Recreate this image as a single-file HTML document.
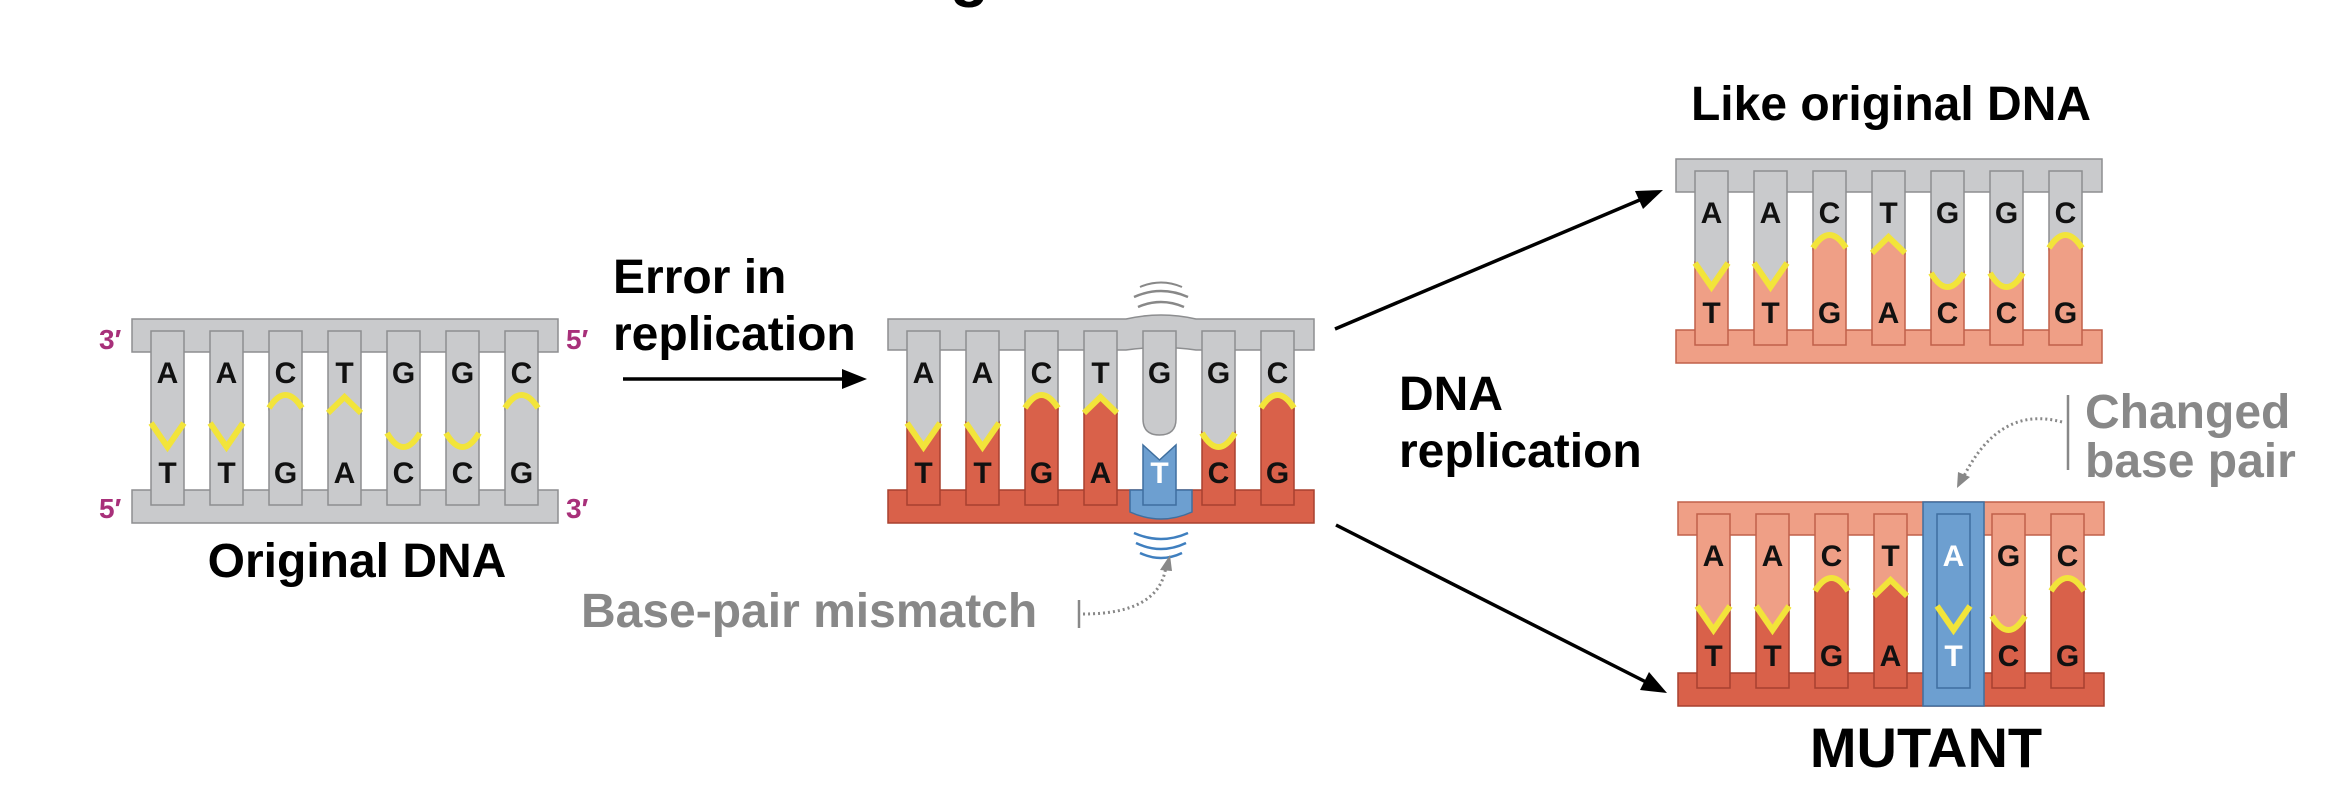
<!DOCTYPE html>
<html><head><meta charset="utf-8"><style>
html,body{margin:0;padding:0;background:#fff;}
svg{display:block;}
text{font-family:"Liberation Sans",Arial,sans-serif;font-weight:bold;}
.b{font-size:30px;text-anchor:middle;fill:#111;}
.w{fill:#fff;}
.lbl{font-size:48px;fill:#000;}
.g{font-size:48px;fill:#888;}
.p{font-size:28px;fill:#a8307a;}
</style></head><body>
<svg width="2337" height="811" viewBox="0 0 2337 811" xmlns="http://www.w3.org/2000/svg">
<defs>
 <g id="AT">
  <path d="M0,12H33V104L16.5,128L0,104Z" style="fill:var(--t);stroke:var(--ts)" stroke-width="1.5"/>
  <path d="M0,186V104L16.5,128L33,104V186Z" style="fill:var(--b);stroke:var(--bs)" stroke-width="1.5"/>
  <path d="M0,104L16.5,128L33,104" fill="none" stroke="#f2e43a" stroke-width="6"/>
 </g>
 <g id="TA">
  <path d="M0,12H33V94L16.5,78L0,94Z" style="fill:var(--t);stroke:var(--ts)" stroke-width="1.5"/>
  <path d="M0,186V94L16.5,78L33,94V186Z" style="fill:var(--b);stroke:var(--bs)" stroke-width="1.5"/>
  <path d="M0,94L16.5,78L33,94" fill="none" stroke="#f2e43a" stroke-width="6"/>
 </g>
 <g id="CG">
  <path d="M0,12H33V89Q16.5,63 0,89Z" style="fill:var(--t);stroke:var(--ts)" stroke-width="1.5"/>
  <path d="M0,186V89Q16.5,63 33,89V186Z" style="fill:var(--b);stroke:var(--bs)" stroke-width="1.5"/>
  <path d="M0,89Q16.5,63 33,89" fill="none" stroke="#f2e43a" stroke-width="6"/>
 </g>
 <g id="GC">
  <path d="M0,12H33V114Q16.5,142 0,114Z" style="fill:var(--t);stroke:var(--ts)" stroke-width="1.5"/>
  <path d="M0,186V114Q16.5,142 33,114V186Z" style="fill:var(--b);stroke:var(--bs)" stroke-width="1.5"/>
  <path d="M0,114Q16.5,142 33,114" fill="none" stroke="#f2e43a" stroke-width="6"/>
 </g>
</defs>

<text x="950" y="-6" style="font-size:64px;fill:#000">g</text>

<!-- ORIGINAL DNA -->
<g transform="translate(132,319)" style="--t:#c9cacc;--ts:#8d8e90;--b:#c9cacc;--bs:#8d8e90">
 <rect x="0" y="0" width="426" height="33" fill="#c9cacc" stroke="#8d8e90" stroke-width="1.5"/>
 <rect x="0" y="171" width="426" height="33" fill="#c9cacc" stroke="#8d8e90" stroke-width="1.5"/>
 <use href="#AT" x="19"/><use href="#AT" x="78"/><use href="#CG" x="137"/><use href="#TA" x="196"/><use href="#GC" x="255"/><use href="#GC" x="314"/><use href="#CG" x="373"/>
 <text class="b" x="35.5" y="64">A</text><text class="b" x="94.5" y="64">A</text><text class="b" x="153.5" y="64">C</text><text class="b" x="212.5" y="64">T</text><text class="b" x="271.5" y="64">G</text><text class="b" x="330.5" y="64">G</text><text class="b" x="389.5" y="64">C</text>
 <text class="b" x="35.5" y="164">T</text><text class="b" x="94.5" y="164">T</text><text class="b" x="153.5" y="164">G</text><text class="b" x="212.5" y="164">A</text><text class="b" x="271.5" y="164">C</text><text class="b" x="330.5" y="164">C</text><text class="b" x="389.5" y="164">G</text>
</g>
<text class="p" x="99" y="349">3′</text>
<text class="p" x="99" y="518">5′</text>
<text class="p" x="566" y="349">5′</text>
<text class="p" x="566" y="518">3′</text>
<text class="lbl" x="357" y="577" text-anchor="middle">Original DNA</text>

<text class="lbl" x="613" y="293">Error in</text>
<text class="lbl" x="613" y="350">replication</text>
<line x1="623" y1="379" x2="846" y2="379" stroke="#000" stroke-width="3.5"/>
<polygon points="867,379 842,369 842,389" fill="#000"/>

<!-- MIDDLE DNA -->
<g transform="translate(888,319)" style="--t:#c9cacc;--ts:#8d8e90;--b:#d9614a;--bs:#a8412f">
 <path d="M250,-12 Q273,-22 296,-12" fill="none" stroke="#888" stroke-width="2.5"/>
 <path d="M246,-22 Q273,-34 300,-22" fill="none" stroke="#888" stroke-width="2.5"/>
 <path d="M252,-32 Q273,-41 294,-32" fill="none" stroke="#888" stroke-width="2"/>
 <path d="M0,0 H238 Q273,-8 308,0 H426 V31 H308 Q273,26 238,31 H0Z" fill="#c9cacc" stroke="#8d8e90" stroke-width="1.5"/>
 <rect x="0" y="171" width="426" height="33" fill="#d9614a" stroke="#a8412f" stroke-width="1.5"/>
 <path d="M242,171 H304 V193 Q273,207 242,193Z" fill="#6d9fd0" stroke="#3f6f9f" stroke-width="1.5"/>
 <path d="M246,214 Q273,226 300,214" fill="none" stroke="#3f7fbf" stroke-width="2.5"/>
 <path d="M248,224 Q273,236 298,224" fill="none" stroke="#3f7fbf" stroke-width="2.5"/>
 <path d="M252,234 Q273,244 294,234" fill="none" stroke="#3f7fbf" stroke-width="2.5"/>
 <use href="#AT" x="19"/><use href="#AT" x="78"/><use href="#CG" x="137"/><use href="#TA" x="196"/>
 <path d="M255,12H288V100Q288,116 271.5,116Q255,116 255,100Z" fill="#c9cacc" stroke="#8d8e90" stroke-width="1.5"/>
 <path d="M255,126L271.5,141L288,126V186H255Z" fill="#6d9fd0" stroke="#3f6f9f" stroke-width="1.5"/>
 <use href="#GC" x="314"/><use href="#CG" x="373"/>
 <text class="b" x="35.5" y="64">A</text><text class="b" x="94.5" y="64">A</text><text class="b" x="153.5" y="64">C</text><text class="b" x="212.5" y="64">T</text><text class="b" x="271.5" y="64">G</text><text class="b" x="330.5" y="64">G</text><text class="b" x="389.5" y="64">C</text>
 <text class="b" x="35.5" y="164">T</text><text class="b" x="94.5" y="164">T</text><text class="b" x="153.5" y="164">G</text><text class="b" x="212.5" y="164">A</text><text class="b w" x="271.5" y="164">T</text><text class="b" x="330.5" y="164">C</text><text class="b" x="389.5" y="164">G</text>
</g>
<text class="g" x="581" y="627">Base-pair mismatch</text>
<line x1="1079" y1="600" x2="1079" y2="628" stroke="#888" stroke-width="2.5"/>
<path d="M1083,614 Q1160,614 1166,566" fill="none" stroke="#888" stroke-width="3" stroke-dasharray="2 3"/>
<polygon points="1170,555 1160,570 1172,571" fill="#888"/>

<text class="lbl" x="1399" y="410">DNA</text>
<text class="lbl" x="1399" y="467">replication</text>
<line x1="1335" y1="329" x2="1642" y2="199" stroke="#000" stroke-width="3.5"/>
<polygon points="1663,190 1643,209 1635,191" fill="#000"/>
<line x1="1336" y1="525" x2="1646" y2="682" stroke="#000" stroke-width="3.5"/>
<polygon points="1667,693 1640,690 1649,672" fill="#000"/>

<!-- LIKE ORIGINAL -->
<text class="lbl" x="1891" y="120" text-anchor="middle">Like original DNA</text>
<g transform="translate(1676,159)" style="--t:#c9cacc;--ts:#8d8e90;--b:#ef9f86;--bs:#c0604a">
 <rect x="0" y="0" width="426" height="33" fill="#c9cacc" stroke="#8d8e90" stroke-width="1.5"/>
 <rect x="0" y="171" width="426" height="33" fill="#ef9f86" stroke="#c0604a" stroke-width="1.5"/>
 <use href="#AT" x="19"/><use href="#AT" x="78"/><use href="#CG" x="137"/><use href="#TA" x="196"/><use href="#GC" x="255"/><use href="#GC" x="314"/><use href="#CG" x="373"/>
 <text class="b" x="35.5" y="64">A</text><text class="b" x="94.5" y="64">A</text><text class="b" x="153.5" y="64">C</text><text class="b" x="212.5" y="64">T</text><text class="b" x="271.5" y="64">G</text><text class="b" x="330.5" y="64">G</text><text class="b" x="389.5" y="64">C</text>
 <text class="b" x="35.5" y="164">T</text><text class="b" x="94.5" y="164">T</text><text class="b" x="153.5" y="164">G</text><text class="b" x="212.5" y="164">A</text><text class="b" x="271.5" y="164">C</text><text class="b" x="330.5" y="164">C</text><text class="b" x="389.5" y="164">G</text>
</g>

<text class="g" x="2085" y="428">Changed</text>
<text class="g" x="2085" y="477">base pair</text>
<line x1="2068" y1="395" x2="2068" y2="470" stroke="#888" stroke-width="2.5"/>
<path d="M2062,422 Q2000,405 1964,476" fill="none" stroke="#888" stroke-width="3" stroke-dasharray="2 3"/>
<polygon points="1957,488 1958,472 1970,477" fill="#888"/>

<!-- MUTANT -->
<g transform="translate(1678,502)" style="--t:#ef9f86;--ts:#c0604a;--b:#d9614a;--bs:#a8412f">
 <rect x="0" y="0" width="426" height="33" fill="#ef9f86" stroke="#c0604a" stroke-width="1.5"/>
 <rect x="0" y="171" width="426" height="33" fill="#d9614a" stroke="#a8412f" stroke-width="1.5"/>
 <rect x="245" y="0" width="61" height="204" fill="#6d9fd0" stroke="#3f6f9f" stroke-width="1.5"/>
 <use href="#AT" x="19"/><use href="#AT" x="78"/><use href="#CG" x="137"/><use href="#TA" x="196"/>
 <use href="#AT" x="259" style="--t:#6d9fd0;--ts:#3f6f9f;--b:#6d9fd0;--bs:#3f6f9f"/>
 <use href="#GC" x="314"/><use href="#CG" x="373"/>
 <text class="b" x="35.5" y="64">A</text><text class="b" x="94.5" y="64">A</text><text class="b" x="153.5" y="64">C</text><text class="b" x="212.5" y="64">T</text><text class="b w" x="275.5" y="64">A</text><text class="b" x="330.5" y="64">G</text><text class="b" x="389.5" y="64">C</text>
 <text class="b" x="35.5" y="164">T</text><text class="b" x="94.5" y="164">T</text><text class="b" x="153.5" y="164">G</text><text class="b" x="212.5" y="164">A</text><text class="b w" x="275.5" y="164">T</text><text class="b" x="330.5" y="164">C</text><text class="b" x="389.5" y="164">G</text>
</g>
<text x="1926" y="767" text-anchor="middle" style="font-size:56px;fill:#000">MUTANT</text>
</svg>
</body></html>
